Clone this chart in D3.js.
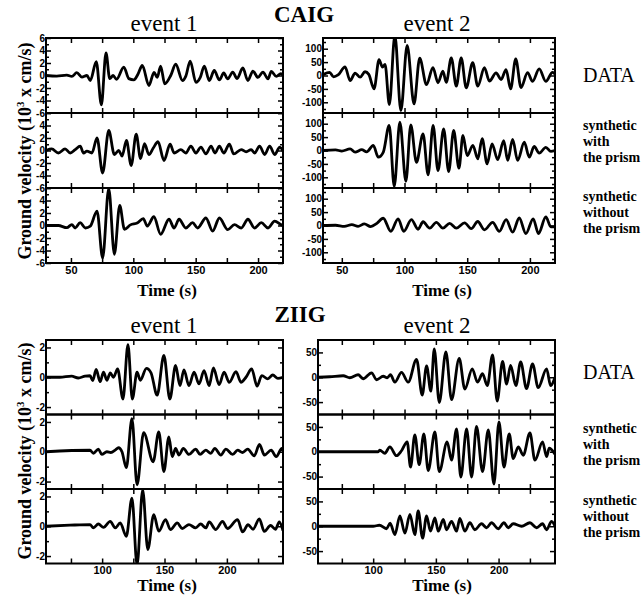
<!DOCTYPE html>
<html>
<head>
<meta charset="utf-8">
<script src="https://cdn.jsdelivr.net/npm/d3@7"></script>
<style>
body { margin: 0; background: #fff; }
svg { display: block; }
.ax .domain { display: none; }
.ax line { stroke: #000; stroke-width: 1.5px; }
.ax text { font-family: "Liberation Sans", Arial, sans-serif; font-weight: bold; fill: #000; }
</style>
</head>
<body>
<svg id="chart" width="643" height="595"></svg>
<script>
// [time (s), velocity] at the peaks and troughs

// CAIG, event 1 (10^3 x cm/s)
var caigE1Data = [[30,0],[38.6,-0.1],[46.7,0.05],[50.7,-0.15],[54.7,0.45],[58.8,-0.25],[62.8,0],[65.5,-0.8],[70.3,2.2],[74.4,-4.7],[78.1,3.6],[81.1,-0.5],[83.8,0],[86.5,-0.6],[92.4,1.35],[96.4,-0.5],[100.4,-0.7],[103.7,0.2],[107.2,1.6],[112.5,-1.6],[116.6,0.5],[119.2,-0.3],[121.9,1.5],[125.2,-1.35],[130,0],[134,1.8],[139.4,-0.8],[142.1,-0.1],[145.6,2.3],[150.2,-1.1],[153.7,-0.3],[156.9,1.5],[160.9,-0.8],[164.9,0.8],[169,-0.7],[172.5,0.4],[175.7,-0.55],[179.7,0.55],[183.2,-0.5],[187.8,1.2],[191.8,-0.8],[195.9,0.7],[199.9,-0.3],[203.9,0.55],[208,-0.55],[210.6,0.65],[214.7,-0.15],[218.2,0.3],[220,0]];
var caigE1With = [[30,0],[34.6,0.25],[39.9,-0.4],[45.3,0.25],[49.4,-0.4],[53.4,0.15],[57.4,0.7],[60.1,-0.4],[62.8,-0.1],[66.8,-0.4],[70.9,2.0],[75.4,-3.6],[80.3,3.2],[84.8,-0.65],[88.3,0],[91,-0.9],[94.5,1.6],[98.3,-2.4],[102.3,2.6],[105.8,-1.3],[109,1.1],[112.5,-0.65],[116,0.4],[119.8,1.4],[124.6,-1.6],[129.5,1.0],[132.7,-0.4],[138.1,0.15],[142.1,-0.4],[146.1,0.7],[150.2,-0.4],[154.2,0.55],[158.2,-0.55],[162.3,0.7],[165.5,-0.4],[169,0.7],[172.5,-0.4],[177,1.0],[180.5,-0.55],[186.5,0.15],[190.5,-0.2],[194.5,0.15],[197.2,-0.4],[201.2,0.7],[205.3,-0.65],[209.3,0.7],[213.3,-0.65],[217.4,0.55],[220,-0.1]];
var caigE1Without = [[30,0],[39.9,0],[46.7,-0.35],[50.7,0.15],[53.4,-0.4],[57.4,0.45],[61.5,-0.4],[65.5,-0.1],[70.9,2.3],[75.4,-5.2],[80.3,5.9],[84.8,-4.6],[89.1,3.2],[92.9,-0.6],[97.7,0.1],[103.1,0.4],[108,1.1],[111.2,-0.1],[116.5,1.4],[121.9,-1.4],[128.6,1.0],[132.7,-0.4],[136.7,1.0],[142.1,-0.4],[147.5,0.45],[151.5,-0.4],[158.2,1.2],[163.6,-0.9],[169,1.2],[175.7,-0.65],[181.1,0.15],[186.5,-0.4],[191.9,1.0],[197.2,-0.4],[202.6,0.45],[208,-0.4],[213.3,0.7],[218.7,0.1],[220,0]];

// CAIG, event 2
var caigE2Data = [[35,3],[40.2,12],[43.4,-5],[47,2],[52.6,32],[56.6,-19],[60.6,9],[64.6,-6],[68.5,14],[71.5,4],[75.7,-50],[79.7,59],[82.4,31],[84.5,41],[87.9,-109],[92.3,150],[97.1,-131],[102.1,112],[107.6,-106],[112.1,65],[117.5,-34],[122.7,29],[126.7,-27],[130.6,16],[133.3,-26],[137.3,66],[141.3,-40],[145.2,66],[149.2,-46],[154.4,48],[158.4,-40],[163.7,29],[167.7,-21],[173,10],[177,-15],[181,22],[184.6,-50],[188.7,62],[192.9,-45],[198.1,11],[202.1,-22],[207.4,25],[212.7,-22],[218,12],[220,5]];
var caigE2With = [[35,0],[45,2],[50,-2],[56.6,6],[60.6,-6],[65.9,3],[69.8,-5],[75.1,19],[79.1,-25],[83.1,-6],[87.8,94],[91.8,-134],[96.3,106],[101.1,-115],[105,96],[109.5,-44],[114.8,62],[118.8,-91],[122.8,94],[126.7,-75],[131.2,81],[135.2,-79],[139.2,75],[143.4,-66],[146.6,56],[150,-19],[154.5,19],[158.5,-31],[161.9,44],[165.9,-50],[169.8,25],[174.3,-34],[179.1,37],[182.3,-37],[186.2,41],[190.2,-37],[195.5,31],[199.5,-25],[203.4,15],[207.4,-10],[212.7,12],[216.7,-3],[220,0]];
var caigE2Without = [[35,0],[45,1],[52,-3],[58,3],[63,-3],[68,6],[73,-4],[78,8],[83,27],[89.1,-22],[94.9,25],[99.4,-22],[105.5,22],[110.8,-14],[114.8,14],[120.1,-10],[125.4,12],[130.6,-10],[136,8],[141.3,-10],[147.9,10],[153.2,-12],[158.4,15],[163.7,-16],[170.3,12],[175.6,-22],[181,22],[186.2,-25],[191.5,28],[196.8,-30],[202.6,25],[206.8,-30],[212.7,32],[216.7,-5],[220,-5]];

// ZIIG, event 1
var ziigE1Data = [[55,0],[66.1,0],[75.5,0.07],[80.9,-0.05],[86.3,0.07],[90.3,0.1],[92.5,-0.22],[95.2,0.52],[98.4,-0.3],[101.1,0.34],[103.8,-0.2],[106.5,0.3],[109.1,0],[112.4,0.56],[116.7,-1.46],[120.7,2.18],[124.2,-1.46],[128,0.34],[130.6,-0.2],[135.5,0.6],[139.2,0.3],[144.1,-1.2],[149.5,1.46],[154.3,-1.46],[158.9,0.79],[162.4,-0.56],[165.6,0.5],[169.6,-0.56],[173.7,0.34],[177.7,-0.45],[181.7,0.45],[185.8,-0.56],[189.2,0.63],[193.8,-0.5],[197.8,0.34],[201.9,-0.34],[207.3,0.38],[211.3,-0.34],[215.3,0],[219.9,0.56],[224.2,-0.6],[228,0.11],[232.8,-0.11],[236.8,0.15],[240.9,-0.07],[245,0]];
var ziigE1With = [[55,0],[90.3,0.1],[93,-0.1],[97,0.18],[99.7,-0.18],[103.8,0],[107,-0.05],[110.5,0.11],[113.2,0.27],[115.9,0],[119.4,-1.07],[123.9,2.22],[128,-2.22],[133.3,1.29],[140.9,-0.67],[145.4,1.33],[149.5,-1.33],[153.5,1.0],[156.2,-0.33],[158.9,0.22],[161.6,-0.22],[165.1,0.22],[169.6,-0.18],[175,0.18],[178.5,-0.18],[183.1,0.11],[187.1,-0.11],[190.3,0.22],[195.2,-0.22],[199.2,0.18],[204.6,-0.18],[208.6,0.11],[212.6,-0.05],[216.7,0.18],[222,-0.27],[226.1,0.49],[230.1,-0.22],[235.5,0.11],[239.5,-0.33],[244.1,0.22],[245,0.05]];
var ziigE1Without = [[55,0],[74.2,0.07],[90.3,0.11],[93,-0.11],[97,0.15],[101.1,-0.07],[106.5,0.33],[110.5,-0.11],[114.5,0.22],[119.4,-0.67],[123.9,1.89],[128,-2.6],[132.5,2.44],[136.6,-1.56],[141.4,0.78],[145.4,-0.33],[150.8,0.44],[154.8,-0.22],[160.2,0.22],[164.2,-0.15],[169.6,0.11],[175,-0.11],[179,0.15],[183.1,-0.11],[185.8,0.29],[191.1,-0.22],[196.5,0.33],[200.5,-0.15],[208.6,0.44],[212.6,-0.38],[217,0.1],[221,-0.2],[226,0.5],[230,-0.35],[235,0.05],[239,-0.2],[242,0.3],[245,-0.3]];

// ZIIG, event 2
var ziigE2Data = [[56,0],[65.4,1],[76.1,3],[81.4,-1],[88,5],[92,-3],[98.7,9],[102.7,-5],[108,2],[111.2,-1],[113.8,5],[117.3,-10],[122.6,10],[127.9,-10],[134.6,36],[139.1,-36],[142.6,23],[146,-28],[148.7,57],[152.7,-51],[158,51],[162.5,-45],[168.6,38],[173.1,-24],[179,17],[183.2,-10],[187.2,7],[191,-17],[195.2,45],[198.9,-48],[203.2,32],[206.4,-14],[209.6,24],[213.8,-17],[217.6,31],[222.3,-23],[227.1,27],[231.6,-21],[238.3,17],[241.5,-17],[245,0]];
var ziigE2With = [[56,0],[104,0],[105.3,3],[109.3,-3],[113.3,10],[118.6,-8],[122.6,2],[127.1,20],[129.8,-31],[133.2,34],[136.7,-26],[140.4,36],[143.9,-38],[149.2,40],[152.7,-40],[159,20],[162.5,-17],[166.5,46],[169.9,-51],[174.5,46],[178.5,-51],[182.4,51],[187.2,-40],[191.8,44],[196.3,-65],[200.3,60],[204.3,-31],[208.5,36],[211.7,-14],[215.7,10],[219.7,-7],[225,38],[229,-17],[235.1,20],[238.3,-10],[240.4,7],[245,-5]];
var ziigE2Without = [[56,0],[100,0],[105,2],[110.6,-5],[113.5,6],[117.3,-17],[121.3,21],[125.3,-14],[129.3,24],[133.2,-17],[135.9,31],[139.4,-24],[142.6,21],[145.7,-10],[149.2,17],[151.9,-10],[155.9,14],[158.5,-7],[162.5,10],[166.5,-10],[169.1,16],[173.1,-10],[177.1,7],[181.1,-7],[186.4,5],[190.4,-3],[194.4,7],[199.7,-5],[204.3,7],[207.7,-3],[211.7,5],[218.4,0],[225,7],[230.3,-3],[235.1,5],[238.3,-7],[242.3,10],[245,0]];

// ticks
var caigXTicks = [50, 75, 100, 125, 150, 175, 200];
var caigXLabels = [50, 100, 150, 200];
var ziigXTicks = [75, 100, 125, 150, 175, 200, 225];
var ziigXLabels = [100, 150, 200];
var caigE1YLabels = [-6, -4, -2, 0, 2, 4, 6];
var caigE1YMinor = [-5, -3, -1, 1, 3, 5];
var caigE2YLabels = [-100, -50, 0, 50, 100];
var caigE2YMinor = [-125, -75, -25, 25, 75, 125];
var ziigE1YLabels = [-2, 0, 2];
var ziigE1YMinor = [-1, 1];
var ziigE2YLabels = [-50, 0, 50];
var ziigE2YMinor = [-25, 25];

var rowNames = [["DATA"], ["synthetic", "with", "the prism"], ["synthetic", "without", "the prism"]];

var serif = '"Liberation Serif", "Times New Roman", serif';
var svg = d3.select("#chart");
var clipN = 0;

var groups = [
    { title: "CAIG", titleX: 304, titleY: 22, top: 38, ph: 75, yLabelMid: 151, eventY: 31, timeY: 296,
      rowText: [[82], [130, 146, 162], [201, 217, 233]],
      cols: [
        { x0: 46, x1: 283, xDomain: [30, 220], xTicks: caigXTicks, xLabels: caigXLabels,
          yDomain: [-6, 6], yLabels: caigE1YLabels, yMinor: caigE1YMinor,
          traces: [caigE1Data, caigE1With, caigE1Without], event: "event 1", eventX: 164, timeX: 167 },
        { x0: 323, x1: 555, xDomain: [35, 220], xTicks: caigXTicks, xLabels: caigXLabels,
          yDomain: [-140, 140], yLabels: caigE2YLabels, yMinor: caigE2YMinor,
          traces: [caigE2Data, caigE2With, caigE2Without], event: "event 2", eventX: 437, timeX: 442 }
      ] },
    { title: "ZIIG", titleX: 300, titleY: 322, top: 340, ph: 74.5, yLabelMid: 451, eventY: 333, timeY: 591,
      rowText: [[379], [433, 449, 465], [505, 521, 537]],
      cols: [
        { x0: 46, x1: 283, xDomain: [55, 245], xTicks: ziigXTicks, xLabels: ziigXLabels,
          yDomain: [-2.5, 2.5], yLabels: ziigE1YLabels, yMinor: ziigE1YMinor,
          traces: [ziigE1Data, ziigE1With, ziigE1Without], event: "event 1", eventX: 164, timeX: 167 },
        { x0: 318, x1: 555, xDomain: [56, 245], xTicks: ziigXTicks, xLabels: ziigXLabels,
          yDomain: [-75, 75], yLabels: ziigE2YLabels, yMinor: ziigE2YMinor,
          traces: [ziigE2Data, ziigE2With, ziigE2Without], event: "event 2", eventX: 437, timeX: 442 }
      ] }
];

function txt(x, y, s, size, weight, anchor) {
    return svg.append("text")
        .attr("x", x).attr("y", y)
        .attr("font-family", serif)
        .attr("font-size", size)
        .attr("font-weight", weight)
        .attr("text-anchor", anchor || "middle")
        .text(s);
}

function drawPanel(c, row, top, ph) {
    var x = d3.scaleLinear().domain(c.xDomain).range([c.x0, c.x1]);
    var y = d3.scaleLinear().domain(c.yDomain).range([top + ph, top]);
    var g = svg.append("g");
    var last = row == 2;

    var id = "clip" + (clipN++);
    svg.append("clipPath").attr("id", id).append("rect")
        .attr("x", c.x0).attr("y", top).attr("width", c.x1 - c.x0).attr("height", ph);

    g.append("path")
        .datum(c.traces[row])
        .attr("clip-path", "url(#" + id + ")")
        .attr("fill", "none")
        .attr("stroke", "#000")
        .attr("stroke-width", 2.8)
        .attr("stroke-linejoin", "round")
        .attr("d", d3.line().x(function (d) { return x(d[0]); }).y(function (d) { return y(d[1]); }).curve(d3.curveMonotoneX));

    // y labels, top one only on the first row
    var shown = c.yLabels.filter(function (v) { return row == 0 || v != c.yDomain[1]; });
    g.append("g").attr("class", "ax").attr("transform", "translate(" + c.x0 + ",0)")
        .call(d3.axisLeft(y).tickValues(c.yLabels).tickSize(-5).tickPadding(1)
            .tickFormat(function (v) { return shown.indexOf(v) >= 0 ? String(v) : ""; }))
        .selectAll("text").attr("font-size", 10);
    g.append("g").attr("class", "ax").attr("transform", "translate(" + c.x0 + ",0)")
        .call(d3.axisLeft(y).tickValues(c.yMinor).tickSize(-3).tickFormat(""));
    g.append("g").attr("class", "ax").attr("transform", "translate(" + c.x1 + ",0)")
        .call(d3.axisRight(y).tickValues(c.yLabels).tickSize(-5).tickFormat(""));
    g.append("g").attr("class", "ax").attr("transform", "translate(" + c.x1 + ",0)")
        .call(d3.axisRight(y).tickValues(c.yMinor).tickSize(-3).tickFormat(""));

    g.append("g").attr("class", "ax").attr("transform", "translate(0," + top + ")")
        .call(d3.axisTop(x).tickValues(c.xTicks).tickSize(-5).tickFormat(""));
    g.append("g").attr("class", "ax").attr("transform", "translate(0," + (top + ph) + ")")
        .call(d3.axisBottom(x).tickValues(c.xTicks).tickSize(-5).tickPadding(3)
            .tickFormat(function (v) { return last && c.xLabels.indexOf(v) >= 0 ? String(v) : ""; }))
        .selectAll("text").attr("font-size", 11);

    g.append("rect")
        .attr("x", c.x0).attr("y", top).attr("width", c.x1 - c.x0).attr("height", ph)
        .attr("fill", "none").attr("stroke", "#000").attr("stroke-width", 2);
}

groups.forEach(function (grp) {
    grp.cols.forEach(function (c) {
        for (var r = 0; r < 3; r++) drawPanel(c, r, grp.top + r * grp.ph, grp.ph);
        txt(c.eventX, grp.eventY, c.event, 23, "normal");
        txt(c.timeX, grp.timeY, "Time (s)", 17, "bold");
    });
    txt(grp.titleX, grp.titleY, grp.title, 23, "bold");

    var yl = svg.append("text")
        .attr("transform", "translate(31," + grp.yLabelMid + ") rotate(-90)")
        .attr("font-family", serif).attr("font-size", 18).attr("font-weight", "bold")
        .attr("text-anchor", "middle");
    yl.append("tspan").text("Ground velocity (10");
    yl.append("tspan").attr("font-size", 11).attr("dy", -7).text("3");
    yl.append("tspan").attr("dy", 7).text(" x cm/s)");

    rowNames.forEach(function (lines, r) {
        lines.forEach(function (s, i) {
            if (r == 0) txt(583, grp.rowText[r][i], s, 20, "normal", "start");
            else txt(583, grp.rowText[r][i], s, 14, "bold", "start");
        });
    });
});
</script>
</body>
</html>
